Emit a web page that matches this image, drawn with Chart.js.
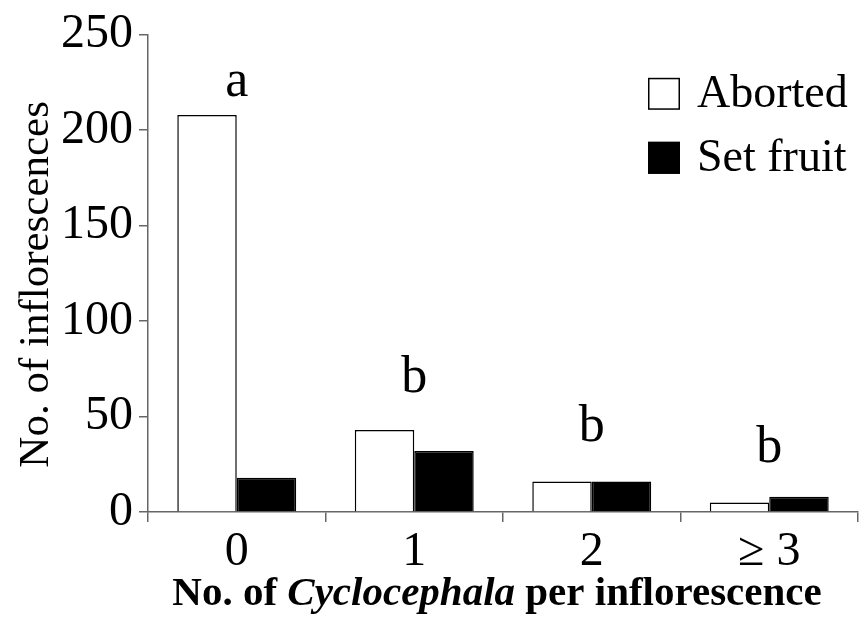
<!DOCTYPE html>
<html>
<head>
<meta charset="utf-8">
<script src="https://cdn.jsdelivr.net/npm/chart.js@4.4.1/dist/chart.umd.min.js"></script>
<style>
  html, body { margin: 0; padding: 0; background: #ffffff; }
  #wrap { width: 862px; height: 622px; }
</style>
</head>
<body>
<div id="wrap"><canvas id="c" width="862" height="622"></canvas></div>
<script>
// ---- data ----
const categories = ['0', '1', '2', '\u2265 3'];
const aborted = [208, 43, 16, 5];
const setFruit = [18, 32, 16, 8];
const seriesNames = ['Aborted', 'Set fruit'];
const groupLetters = ['a', 'b', 'b', 'b'];
const letterLevels = [218, 63, 37, 26];
const yTicks = [0, 50, 100, 150, 200, 250];
const yTitle = 'No. of inflorescences';
const xTitleParts = [
  { text: 'No. of ', italic: false },
  { text: 'Cyclocephala', italic: true },
  { text: ' per inflorescence', italic: false }
];

const SERIF = '"Liberation Serif", "Times New Roman", serif';

const letterPlugin = {
  id: 'letters',
  afterDatasetsDraw(chart) {
    const { ctx, scales: { x, y } } = chart;
    ctx.save();
    ctx.fillStyle = '#000';
    ctx.font = '52px ' + SERIF;
    ctx.textAlign = 'center';
    ctx.textBaseline = 'alphabetic';
    groupLetters.forEach((l, i) => {
      ctx.fillText(l, x.getPixelForValue(i), y.getPixelForValue(letterLevels[i]));
    });
    ctx.restore();
  }
};

const legendPlugin = {
  id: 'customLegend',
  afterDraw(chart) {
    const { ctx, chartArea } = chart;
    ctx.save();
    const box = 32;
    const left = chartArea.right - 210;
    const top0 = chartArea.top + 43;
    const gap = 64;
    ctx.font = '46px ' + SERIF;
    ctx.textBaseline = 'middle';
    ctx.textAlign = 'left';
    chart.data.datasets.forEach((ds, i) => {
      const t = top0 + i * gap;
      ctx.fillStyle = ds.backgroundColor;
      ctx.fillRect(left, t, box, box);
      ctx.lineWidth = 1.5;
      ctx.strokeStyle = '#000';
      ctx.strokeRect(left + 0.75, t + 0.75, box - 1.5, box - 1.5);
      ctx.fillStyle = '#000';
      ctx.fillText(ds.label, left + box + 17, t + box / 2 + 1);
    });
    ctx.restore();
  }
};

const yTitlePlugin = {
  id: 'yTitle',
  afterDraw(chart) {
    const { ctx, chartArea } = chart;
    ctx.save();
    ctx.fillStyle = '#000';
    ctx.font = '43px ' + SERIF;
    ctx.textAlign = 'center';
    ctx.textBaseline = 'middle';
    ctx.translate(chartArea.left - 111, (chartArea.top + chartArea.bottom) / 2 + 11);
    ctx.rotate(-Math.PI / 2);
    ctx.fillText(yTitle, 0, 0);
    ctx.restore();
  }
};

const xTitlePlugin = {
  id: 'xTitle',
  afterDraw(chart) {
    const { ctx, chartArea } = chart;
    ctx.save();
    ctx.fillStyle = '#000';
    ctx.textBaseline = 'alphabetic';
    ctx.textAlign = 'left';
    const fonts = xTitleParts.map(p => (p.italic ? 'italic bold 41px ' : 'bold 41px ') + SERIF);
    let total = 0;
    const widths = xTitleParts.map((p, i) => { ctx.font = fonts[i]; const w = ctx.measureText(p.text).width; total += w; return w; });
    let xPos = (chartArea.left + chartArea.right) / 2 - total / 2 - 6;
    const yPos = chartArea.bottom + 93;
    xTitleParts.forEach((p, i) => {
      ctx.font = fonts[i];
      ctx.fillText(p.text, xPos, yPos);
      xPos += widths[i];
    });
    ctx.restore();
  }
};

new Chart(document.getElementById('c'), {
  type: 'bar',
  data: {
    labels: categories,
    datasets: [
      { label: seriesNames[0], data: aborted, backgroundColor: '#ffffff', borderColor: '#000000', borderWidth: 1.5 },
      { label: seriesNames[1], data: setFruit, backgroundColor: '#000000', borderColor: '#000000', borderWidth: 1.5 }
    ]
  },
  options: {
    responsive: false,
    animation: false,
    devicePixelRatio: 1,
    layout: { padding: { top: 31, right: 4, left: 0, bottom: 0 } },
    plugins: { legend: { display: false }, tooltip: { enabled: false } },
    datasets: { bar: { categoryPercentage: 0.67, barPercentage: 1.0 } },
    scales: {
      x: {
        offset: true,
        afterFit(scale) { scale.height = 110; },
        grid: { offset: true, drawOnChartArea: false, drawTicks: true, tickLength: 10, color: '#666', lineWidth: 1.5 },
        border: { display: true, color: '#666', width: 1.5 },
        ticks: { color: '#000', padding: 6, font: { family: SERIF, size: 48, lineHeight: 1.0 } }
      },
      y: {
        min: 0,
        max: 250,
        afterFit(scale) { scale.width = 148; },
        afterBuildTicks(scale) { scale.ticks = yTicks.map(v => ({ value: v })); },
        grid: { drawOnChartArea: false, drawTicks: true, tickLength: 9, color: '#666', lineWidth: 1.5 },
        border: { display: true, color: '#666', width: 1.5 },
        ticks: { color: '#000', padding: 6, font: { family: SERIF, size: 48 } },
        title: { display: false, text: yTitle }
      }
    }
  },
  plugins: [letterPlugin, legendPlugin, yTitlePlugin, xTitlePlugin]
});
</script>
</body>
</html>
